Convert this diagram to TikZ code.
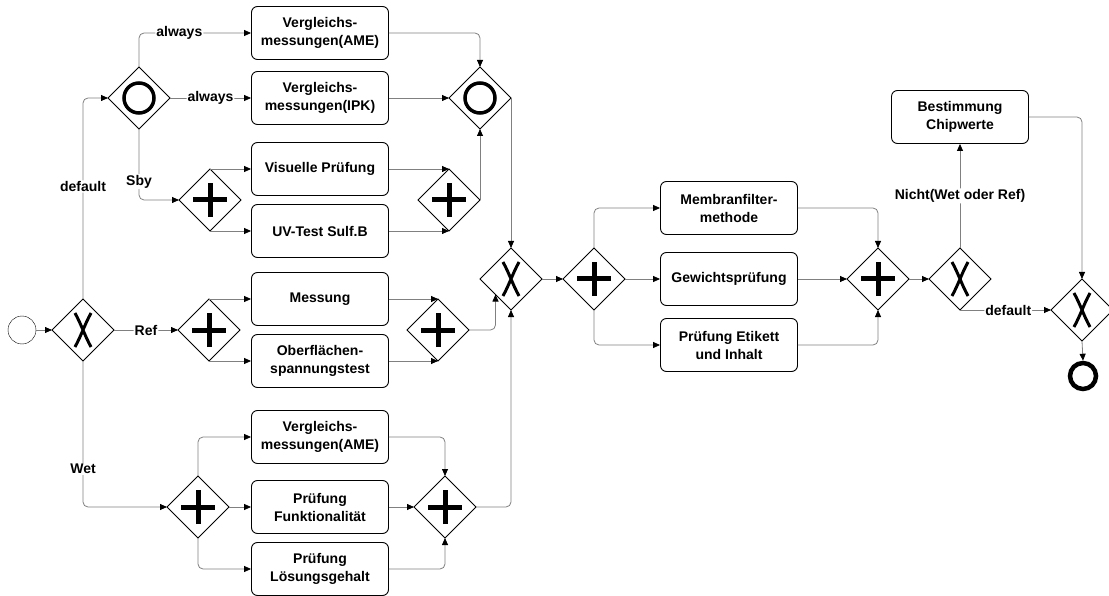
\documentclass[tikz,border=0pt]{standalone}
\usepackage{fontspec}
\setmainfont{Liberation Sans}
\usetikzlibrary{shapes.geometric,arrows.meta,positioning,calc}

\begin{document}
\begin{tikzpicture}[x=1pt, y=-1pt,
    every node/.style={font=\fontsize{14}{18}\selectfont\bfseries},
    task/.style={draw, line width=0.9pt, rounded corners=6pt, minimum width=137pt, minimum height=53pt,
                 align=center, fill=white, inner sep=2pt},
    gw/.style={diamond, draw, line width=0.9pt, minimum width=62pt, minimum height=62pt,
               inner sep=0pt, outer sep=0pt, fill=white},
    xgw/.style={gw, path picture={\draw[line width=3pt, shift={(path picture bounding box.center)}]
               (-8pt,-17pt) .. controls (-1pt,-4pt) and (1pt,4pt) .. (8pt,17pt)
               (8pt,-17pt) .. controls (1pt,-4pt) and (-1pt,4pt) .. (-8pt,17pt);}},
    pgw/.style={gw, path picture={\draw[line width=5pt, shift={(path picture bounding box.center)}]
               (-17pt,0pt) -- (17pt,0pt) (0pt,-17pt) -- (0pt,17pt);}},
    ogw/.style={gw, path picture={\draw[line width=3.5pt]
               (path picture bounding box.center) circle (15pt);}},
    flow/.style={draw=black!50, line width=0.8pt, rounded corners=5pt,
                 -{Triangle[length=7pt,width=6pt,color=black]}},
    lbl/.style={fill=white, inner sep=1pt}]

    \useasboundingbox (0,0) rectangle (1109,596);

    % Start and first split
    \node[circle, draw, minimum size=28pt, inner sep=0pt] (start) at (22,330) {};
    \node[xgw] (gwSplit) at (83,330) {};

    % Default branch
    \node[ogw] (gwOrSplit) at (139,98) {};
    \node[task] (tAme) at (320,33) {Vergleichs-\\messungen(AME)};
    \node[task] (tIpk) at (320,98) {Vergleichs-\\messungen(IPK)};
    \node[pgw] (gwSby) at (210,200) {};
    \node[task] (tVis) at (320,169) {Visuelle Prüfung};
    \node[task] (tUv) at (320,231) {UV-Test Sulf.B};
    \node[pgw] (gwSbyJoin) at (449,200) {};
    \node[ogw] (gwOrJoin) at (480,98) {};

    % Ref branch
    \node[pgw] (gwRef) at (209,330) {};
    \node[task] (tMess) at (320,299) {Messung};
    \node[task] (tOber) at (320,361) {Oberflächen-\\spannungstest};
    \node[pgw] (gwRefJoin) at (438,330) {};

    % Wet branch
    \node[pgw] (gwWet) at (198,507) {};
    \node[task] (tAmeWet) at (320,437) {Vergleichs-\\messungen(AME)};
    \node[task] (tFunk) at (320,507) {Prüfung\\Funktionalität};
    \node[task] (tLoes) at (320,569) {Prüfung\\Lösungsgehalt};
    \node[pgw] (gwWetJoin) at (445,507) {};

    % Merge and common checks
    \node[xgw] (gwMerge) at (511,279) {};
    \node[pgw] (gwPar) at (594,279) {};
    \node[task] (tMemb) at (729,208) {Membranfilter-\\methode};
    \node[task] (tGew) at (729,279) {Gewichtsprüfung};
    \node[task] (tEtik) at (729,345) {Prüfung Etikett\\und Inhalt};
    \node[pgw] (gwParJoin) at (878,279) {};

    % Chip values and end
    \node[xgw] (gwCheck) at (960,279) {};
    \node[task] (tChip) at (960,117) {Bestimmung\\Chipwerte};
    \node[xgw] (gwEnd) at (1082,310) {};
    \node[circle, draw, line width=4.5pt, minimum size=26pt, inner sep=0pt] (stop) at (1083,376) {};

    % Flows
    \draw[flow] (start) -- (gwSplit);
    \draw[flow] (gwSplit.north) |- node[lbl, pos=0.28] {default} (gwOrSplit.west);
    \draw[flow] (gwSplit.east) -- node[lbl] {Ref} (gwRef.west);
    \draw[flow] (gwSplit.south) |- node[lbl, pos=0.37] {Wet} (gwWet.west);

    \draw[flow] (gwOrSplit.north) |- node[lbl, pos=0.68] {always} (tAme.west);
    \draw[flow] (gwOrSplit.east) -- node[lbl] {always} (tIpk.west);
    \draw[flow] (gwOrSplit.south) |- node[lbl, pos=0.37] {Sby} (gwSby.west);
    \draw[flow] (gwSby.north) -- (gwSby.north -| tVis.west);
    \draw[flow] (gwSby.south) -- (gwSby.south -| tUv.west);
    \draw[flow] (tVis.east) -- (gwSbyJoin.north);
    \draw[flow] (tUv.east) -- (gwSbyJoin.south);
    \draw[flow] (tAme.east) -| (gwOrJoin.north);
    \draw[flow] (tIpk.east) -- (gwOrJoin.west);
    \draw[flow] (gwSbyJoin.east) -- (gwOrJoin.south);
    \draw[flow] (gwOrJoin.east) -- (gwMerge.north);

    \draw[flow] (gwRef.north) -- (gwRef.north -| tMess.west);
    \draw[flow] (gwRef.south) -- (gwRef.south -| tOber.west);
    \draw[flow] (tMess.east) -- (gwRefJoin.north);
    \draw[flow] (tOber.east) -- (gwRefJoin.south);
    \draw[flow] (gwRefJoin.east) -| ($(gwMerge.west)!0.5!(gwMerge.south)$);

    \draw[flow] (gwWet.north) |- (tAmeWet.west);
    \draw[flow] (gwWet.east) -- (tFunk.west);
    \draw[flow] (gwWet.south) |- (tLoes.west);
    \draw[flow] (tAmeWet.east) -| (gwWetJoin.north);
    \draw[flow] (tFunk.east) -- (gwWetJoin.west);
    \draw[flow] (tLoes.east) -| (gwWetJoin.south);
    \draw[flow] (gwWetJoin.east) -| (gwMerge.south);

    \draw[flow] (gwMerge.east) -- (gwPar.west);
    \draw[flow] (gwPar.north) |- (tMemb.west);
    \draw[flow] (gwPar.east) -- (tGew.west);
    \draw[flow] (gwPar.south) |- (tEtik.west);
    \draw[flow] (tMemb.east) -| (gwParJoin.north);
    \draw[flow] (tGew.east) -- (gwParJoin.west);
    \draw[flow] (tEtik.east) -| (gwParJoin.south);
    \draw[flow] (gwParJoin.east) -- (gwCheck.west);

    \draw[flow] (gwCheck.north) -- node[lbl] {Nicht(Wet oder Ref)} (tChip.south);
    \draw[flow] (gwCheck.south) -- node[lbl, pos=0.53] {default} (gwEnd.west);
    \draw[flow] (tChip.east) -| (gwEnd.north);
    \draw[flow] (gwEnd.south) -- (stop.north);
\end{tikzpicture}
\end{document}
